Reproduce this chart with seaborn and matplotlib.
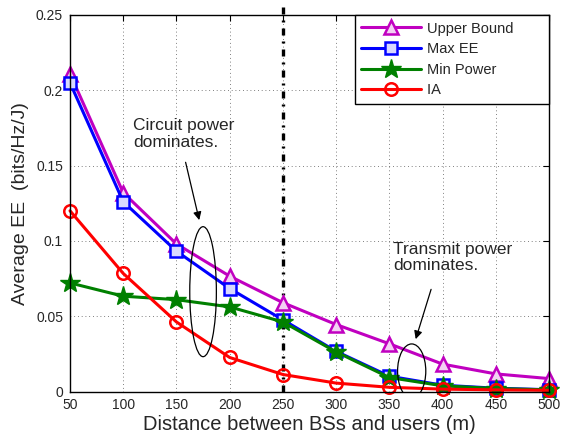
import matplotlib
matplotlib.use("Agg")
import matplotlib.pyplot as plt
from matplotlib.patches import Ellipse
import numpy as np
import pandas as pd
import seaborn as sns

# Distance between base stations and users (m)
distance = [50, 100, 150, 200, 250, 300, 350, 400, 450, 500]

# Average energy efficiency (bits/Hz/J) for each scheme
upper_bound = [0.211, 0.132, 0.098, 0.0766, 0.059, 0.0445, 0.0317, 0.0182, 0.0117, 0.0086]
max_ee = [0.205, 0.126, 0.0932, 0.0684, 0.0476, 0.0267, 0.0102, 0.0042, 0.0022, 0.0012]
min_power = [0.0721, 0.0633, 0.061, 0.0562, 0.0462, 0.0263, 0.0093, 0.0038, 0.002, 0.0011]
ia = [0.12, 0.0784, 0.0462, 0.0226, 0.0113, 0.0056, 0.0028, 0.0016, 0.0011, 0.0008]

series_names = ["Upper Bound", "Max EE", "Min Power", "IA"]
series_values = [upper_bound, max_ee, min_power, ia]

x_ticks = [50, 100, 150, 200, 250, 300, 350, 400, 450, 500]
y_ticks = [0, 0.05, 0.1, 0.15, 0.2, 0.25]
y_tick_labels = ["0", "0.05", "0.1", "0.15", "0.2", "0.25"]

df = pd.DataFrame({
    "distance": np.tile(distance, len(series_names)),
    "ee": np.concatenate(series_values),
    "scheme": np.repeat(series_names, len(distance)),
})

sns.set_theme(style="white")
plt.rcParams["font.family"] = ["Liberation Sans", "DejaVu Sans"]

fig = plt.figure(figsize=(5.61, 4.36), dpi=100)
ax = fig.add_axes([0.1248, 0.102, 0.8538, 0.8636])

styles = {
    "Upper Bound": dict(color="#c000c0", marker="^", ms=10, mfc="#f3d0f3", mew=1.8),
    "Max EE": dict(color="#0000ff", marker="s", ms=8, mfc="#d8d8ff", mew=1.8),
    "Min Power": dict(color="#008000", marker="*", ms=15, mfc="#008000", mew=1.0),
    "IA": dict(color="#ff0000", marker="o", ms=9, mfc="none", mew=1.8),
}

for name in series_names:
    st = styles[name]
    sns.lineplot(
        data=df[df["scheme"] == name], x="distance", y="ee", ax=ax,
        color=st["color"], marker=st["marker"], markersize=st["ms"],
        markerfacecolor=st["mfc"], markeredgecolor=st["color"],
        markeredgewidth=st["mew"], linewidth=2.2, label=name + "       ",
        zorder=3, clip_on=False,
    )

ax.set_xlim(50, 500)
ax.set_ylim(0, 0.25)
ax.set_xticks(x_ticks)
ax.set_xticklabels([str(v) for v in x_ticks])
ax.set_yticks(y_ticks)
ax.set_yticklabels(y_tick_labels)
ax.tick_params(axis="both", which="both", direction="in", top=True, right=True,
               length=4, width=0.8, labelsize=10, color="black", pad=5)

ax.grid(True, linestyle=(0, (1, 3.5)), color="#555555", linewidth=0.6)
for s in ax.spines.values():
    s.set_color("black")
    s.set_linewidth(1.0)
    s.set_zorder(5)

ax.set_xlabel("Distance between BSs and users (m)", fontsize=14.5, labelpad=2)
ax.set_ylabel("Average EE  (bits/Hz/J)", fontsize=14, labelpad=5)

# boundary between circuit-power and transmit-power regimes
ax.plot([250, 250], [0, 0.259], color="black", linewidth=2.4,
        dashes=(2.1, 1.8, 0.6, 1.8), clip_on=False, zorder=2)

# circuit power region
ax.add_patch(Ellipse((175, 0.0663), 25, 0.0863, fill=False, edgecolor="black",
                     linewidth=0.9, zorder=4))
ax.annotate("", xy=(172, 0.112), xytext=(158, 0.154),
            arrowprops=dict(arrowstyle="-|>", color="black", lw=0.9,
                            mutation_scale=12))
ax.text(109, 0.1816, "Circuit power\ndominates.", fontsize=12.5, va="top",
        ha="left", linespacing=1.15)

# transmit power region
ax.add_patch(Ellipse((371, 0.0136), 26.5, 0.036, fill=False, edgecolor="black",
                     linewidth=0.9, zorder=4))
ax.annotate("", xy=(374, 0.033), xytext=(390, 0.0696),
            arrowprops=dict(arrowstyle="-|>", color="black", lw=0.9,
                            mutation_scale=12))
ax.text(353.5, 0.0995, "Transmit power\ndominates.", fontsize=12.5, va="top",
        ha="left", linespacing=1.15)

leg = ax.legend(loc="upper right", fontsize=10.5, frameon=True, fancybox=False,
                borderaxespad=0, handlelength=4.1, handletextpad=0.4,
                edgecolor="black", framealpha=1, borderpad=0.45,
                labelspacing=0.45)
leg.get_frame().set_linewidth(1.0)
leg.set_zorder(6)

fig.savefig("out.png", dpi=100)
